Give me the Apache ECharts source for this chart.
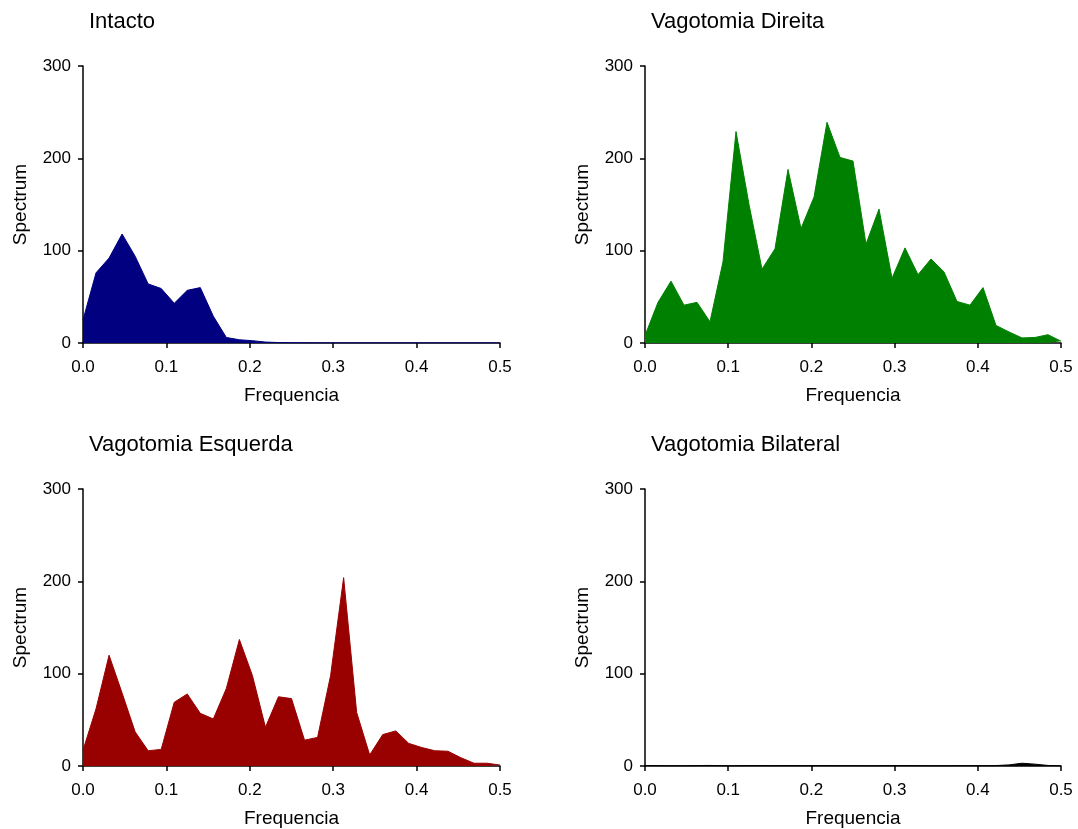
<!DOCTYPE html>
<html>
<head>
<meta charset="utf-8">
<script src="https://cdn.jsdelivr.net/npm/echarts@6/dist/echarts.min.js"></script>
<style>
html,body{margin:0;padding:0;background:#fff;}
#chart{width:1078px;height:829px;}
</style>
</head>
<body>
<div id="chart"></div>
<script>
// Frequency grid (33 bins from 0 to 0.5)
var nBins = 33;
var frequencies = [];
for (var i = 0; i < nBins; i++) frequencies.push(i * 0.5 / 32);

var xTicks = ['0.0', '0.1', '0.2', '0.3', '0.4', '0.5'];
var yTicks = [0, 100, 200, 300];

var titles = ['Intacto', 'Vagotomia Direita', 'Vagotomia Esquerda', 'Vagotomia Bilateral'];

var intacto = [25, 76, 92, 118, 94, 64, 59, 43, 57, 60, 29, 6, 3.5, 2.5, 1, 0.5, 0.3, 0.2, 0.1, 0.1, 0.1, 0.1, 0.1, 0.1, 0.1, 0.1, 0.1, 0.1, 0.1, 0.1, 0.1, 0.1, 0.1];
var direita = [8, 44, 67, 41, 44, 23, 88, 229, 150, 80, 102, 188, 124, 158, 239, 201, 197, 107, 145, 70, 103, 74, 91, 77, 45, 41, 60, 19, 12, 5.5, 6, 9, 2];
var esquerda = [17, 62, 120, 79, 37, 16.5, 18, 69, 78, 57, 51, 84, 137, 98, 42, 75, 73, 28, 31, 98, 204, 58, 12, 34, 38, 24.5, 20, 16.5, 16, 9, 3, 3, 1];
var bilateral = [0.6, 0.4, 0.3, 0.3, 0.5, 0.6, 0.3, 0.3, 0.5, 0.5, 0.4, 0.5, 0.4, 0.5, 0.5, 0.4, 0.4, 0.3, 0.3, 0.5, 0.5, 0.4, 0.3, 0.3, 0.4, 0.4, 0.3, 0.5, 1.2, 3, 2, 0.6, 0.2];

var seriesValues = [intacto, direita, esquerda, bilateral];
var colors = ['#000080', '#008000', '#990000', '#000000'];

var fontFam = 'Arial, "Liberation Sans", sans-serif';
var grids = [
  {left: 83, top: 66, width: 417, height: 277},
  {left: 645, top: 66, width: 416, height: 277},
  {left: 83, top: 489, width: 417, height: 277},
  {left: 645, top: 489, width: 416, height: 277}
];

var option = {
  backgroundColor: '#fff',
  animation: false,
  title: [],
  grid: [],
  xAxis: [],
  yAxis: [],
  series: []
};

for (var k = 0; k < 4; k++) {
  var g = grids[k];
  option.title.push({
    text: titles[k],
    left: g.left + 1,
    top: g.top - 60,
    textStyle: {fontFamily: fontFam, fontSize: 22, fontWeight: 'normal', color: '#000'}
  });
  option.grid.push({left: g.left, top: g.top, width: g.width, height: g.height, containLabel: false});
  option.xAxis.push({
    type: 'value', gridIndex: k, min: 0, max: 0.5, interval: 0.1,
    name: 'Frequencia', nameLocation: 'middle', nameGap: 43,
    nameTextStyle: {fontFamily: fontFam, fontSize: 19, color: '#000'},
    axisLine: {show: true, lineStyle: {color: '#000', width: 1.5}},
    axisTick: {show: true, length: 5, lineStyle: {color: '#000', width: 1.5}},
    axisLabel: {fontFamily: fontFam, fontSize: 17, color: '#000', margin: 16,
      formatter: function (v) { return xTicks[Math.round(v * 10)]; }},
    splitLine: {show: false}
  });
  option.yAxis.push({
    type: 'value', gridIndex: k, min: 0, max: 300, interval: 100,
    name: 'Spectrum', nameLocation: 'middle', nameGap: 53,
    nameTextStyle: {fontFamily: fontFam, fontSize: 19, color: '#000'},
    axisLine: {show: true, lineStyle: {color: '#000', width: 1.5}},
    axisTick: {show: true, length: 5, lineStyle: {color: '#000', width: 1.5}},
    axisLabel: {fontFamily: fontFam, fontSize: 17, color: '#000', margin: 12,
      formatter: function (v) { return yTicks.indexOf(v) >= 0 ? String(v) : ''; }},
    splitLine: {show: false}
  });
  var data = [];
  for (var i = 0; i < nBins; i++) data.push([frequencies[i], seriesValues[k][i]]);
  option.series.push({
    type: 'line', xAxisIndex: k, yAxisIndex: k, data: data,
    showSymbol: false, symbol: 'none',
    lineStyle: {color: colors[k], width: 1},
    areaStyle: {color: colors[k], opacity: 1},
    z: 1
  });
}

var chart = echarts.init(document.getElementById('chart'), null, {renderer: 'canvas'});
chart.setOption(option);
</script>
</body>
</html>
